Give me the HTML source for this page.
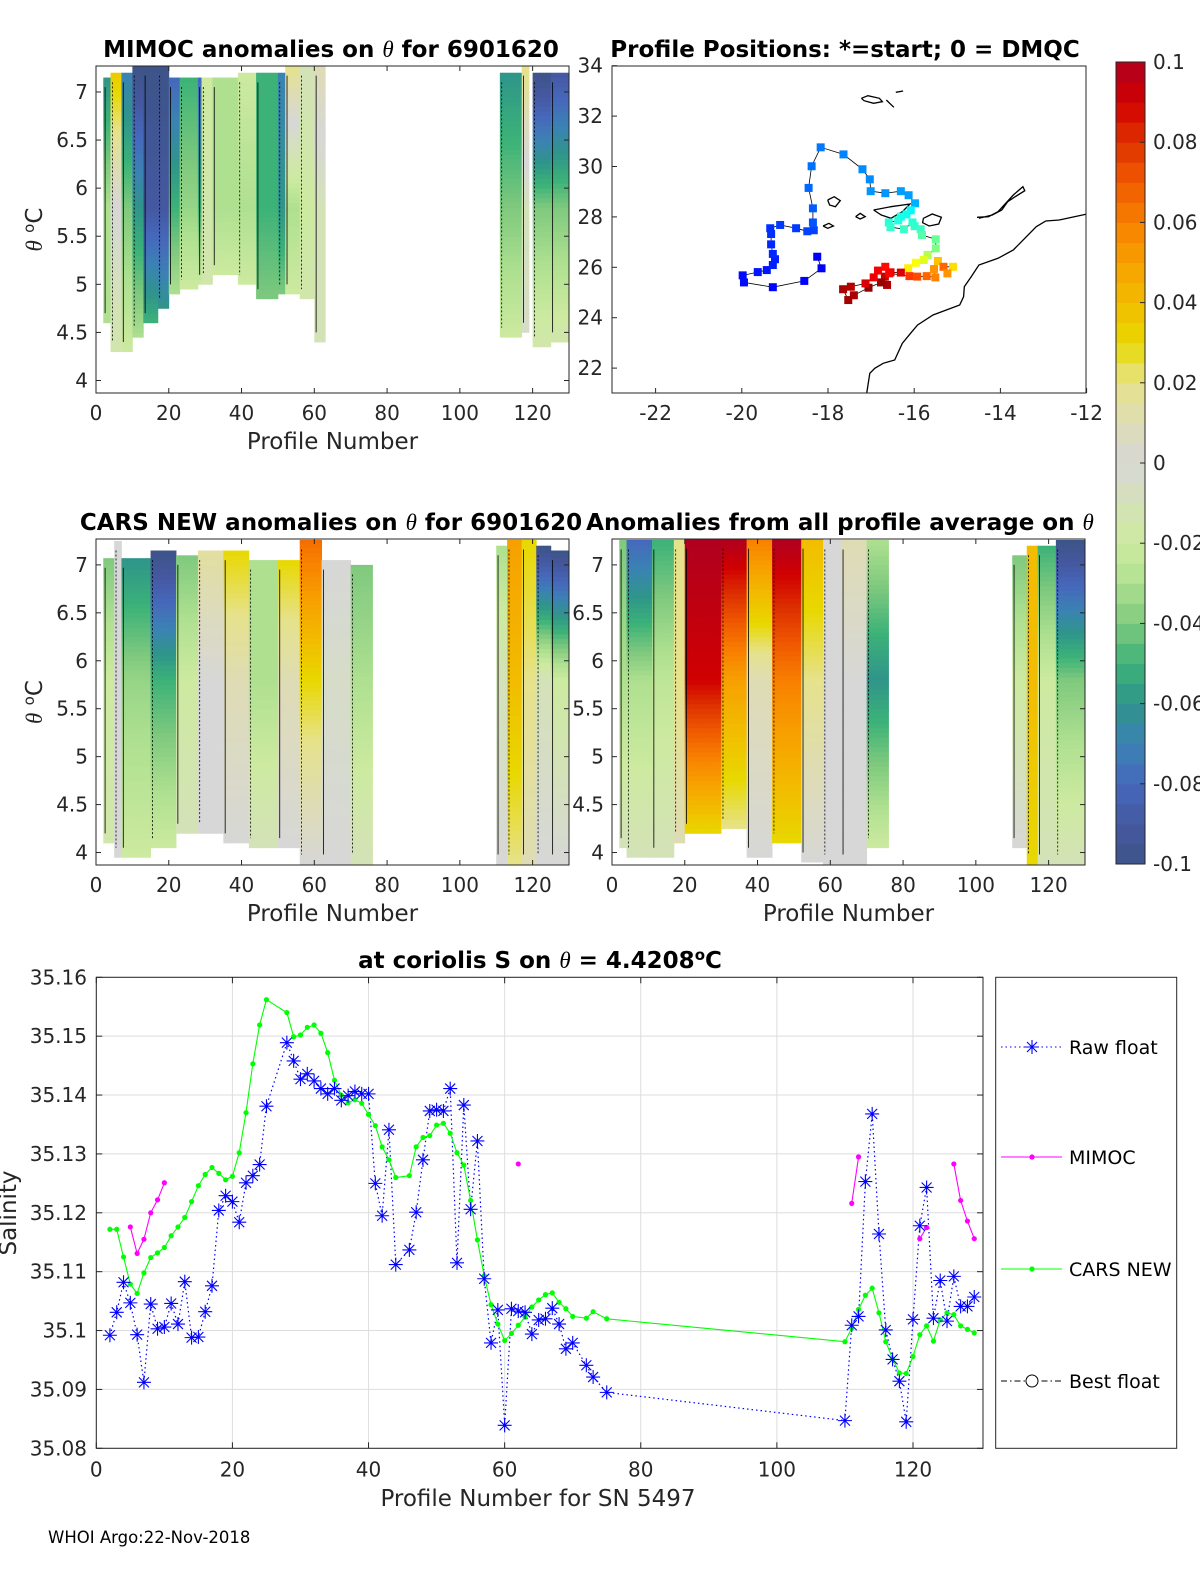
<!DOCTYPE html>
<html><head><meta charset="utf-8"><style>
html,body{margin:0;padding:0;background:#fff}
svg{display:block;font-family:"DejaVu Sans","Liberation Sans",sans-serif}
.tk{font-size:20px;fill:#262626}
.ttl{font-size:23px;font-weight:bold;fill:#000}
.lab{font-size:23px;fill:#262626}
</style></head><body>
<svg id="fig" width="1200" height="1575" viewBox="0 0 1200 1575" xmlns="http://www.w3.org/2000/svg">
<rect width="1200" height="1575" fill="#fff"/>
<g id="g-tl"></g>
<g id="g-map"></g>
<g id="g-cb"></g>
<g id="g-ml"></g>
<g id="g-mr"></g>
<g id="g-bot"></g>
<text x="48" y="1543" font-size="16.5" fill="#000">WHOI Argo:22-Nov-2018</text>
</svg>
<script>
// ===== Bottom chart data =====
const rawProfiles=[2,3,4,5,6,7,8,9,10,11,12,13,14,15,16,17,18,19,20,21,22,23,24,25,28,29,30,31,32,33,34,35,36,37,38,39,40,41,42,43,44,46,47,48,49,50,51,52,53,54,55,56,57,58,59,60,61,62,63,64,65,66,67,68,69,70,72,73,75,110,111,112,113,114,115,116,117,118,119,120,121,122,123,124,125,126,127,128,129];
const rawSal=[99.2,103.1,108.2,104.7,99.3,91.2,104.5,100.3,100.6,104.6,101.1,108.3,98.8,98.9,103.2,107.6,120.4,122.9,121.9,118.4,125.1,126.3,128.2,138.1,148.9,145.8,142.7,143.6,142.4,141.1,140.2,141.1,139.1,139.9,140.6,140.2,140.2,125.0,119.5,134.1,111.2,113.7,120.1,129.0,137.3,137.5,137.3,141.1,111.5,138.3,120.6,132.2,108.8,97.9,103.5,83.9,103.7,103.3,103.1,99.4,101.8,102.0,103.8,101.1,96.9,97.9,94.1,92.1,89.5,84.7,100.9,102.4,125.3,136.8,116.4,100.1,95.1,91.4,84.5,101.9,117.8,124.3,102.1,108.5,101.6,109.2,104.1,104.1,105.7];
const carsProfiles=[2,3,4,5,6,7,8,9,10,11,12,13,14,15,16,17,18,19,20,21,22,23,24,25,28,29,30,31,32,33,34,35,36,37,38,39,40,41,42,43,44,46,47,48,49,50,51,52,53,54,55,56,57,58,59,60,61,62,63,64,65,66,67,68,69,70,72,73,75,110,111,112,113,114,115,116,117,118,119,120,121,122,123,124,125,126,127,128,129];
const carsSal=[117.2,117.2,112.5,107.9,106.3,109.8,112.4,113.2,114.1,116.1,117.6,119.2,121.9,124.6,126.5,127.7,126.7,125.6,126.2,130.2,137.0,145.3,151.9,156.2,154.0,149.9,150.2,151.5,151.9,150.5,147.2,142.5,140.0,138.7,139.2,138.6,136.7,134.8,131.2,129.0,126.0,126.3,131.2,132.8,133.1,134.9,135.2,133.5,130.2,128.1,122.1,115.4,109.3,104.4,101.1,98.3,99.5,100.9,102.3,104.0,105.2,106.1,106.4,104.8,103.7,102.4,102.1,103.2,102.0,98.1,100.4,103.6,106.0,107.2,103.0,98.1,95.2,92.8,92.7,95.6,99.3,100.8,98.2,101.8,103.0,102.7,100.8,100.2,99.6];
const mimocProfiles=[5,6,7,8,9,10,null,62,null,111,112,null,121,122,null,126,127,128,129];
const mimocSal=[117.6,113.1,115.5,120.0,122.2,125.1,null,128.3,null,121.6,129.5,null,115.6,117.5,null,128.3,122.1,118.6,115.6];
const salTicks=["35.08","35.09","35.1","35.11","35.12","35.13","35.14","35.15","35.16"];
const profTicks=[0,20,40,60,80,100,120];

// ===== Heatmap band data =====
const mimocStart=[2,4,7,10,13,17,20,23,28,29,32,39,44,50,52,56,60,111,117,120,125];
const mimocEnd  =[4,7,10,13,17,20,23,28,29,32,39,44,50,52,56,60,63,117,119,125,130];
const mimocTop  =[-0.06,0.035,-0.07,-0.1,-0.1,-0.1,-0.08,-0.05,-0.08,-0.02,-0.03,-0.02,-0.05,-0.07,0.02,-0.01,0.01,-0.06,0.02,-0.1,-0.09];
const mimocMid  =[-0.03,0.0,-0.04,-0.06,-0.09,-0.09,-0.05,-0.035,-0.05,-0.015,-0.03,-0.03,-0.05,-0.06,-0.03,-0.02,-0.01,-0.04,-0.01,-0.04,-0.04];
const mimocBot  =[-0.03,-0.015,-0.02,-0.03,-0.05,-0.06,-0.03,-0.02,-0.02,-0.015,-0.02,-0.02,-0.04,-0.04,-0.02,-0.015,-0.01,-0.02,-0.005,-0.015,-0.015];
const mimocThTop=[7.15,7.2,7.2,7.27,7.27,7.27,7.15,7.15,7.15,7.15,7.15,7.2,7.2,7.2,7.27,7.27,7.27,7.2,7.27,7.2,7.2];
const mimocThBot=[4.6,4.3,4.3,4.45,4.6,4.75,4.9,4.95,5.0,5.0,5.1,5.0,4.85,4.9,4.9,4.85,4.4,4.45,4.5,4.35,4.4];

const carsStart=[2,5,7,15,22,28,35,42,50,56,62,70,110,113,117,121,125];
const carsEnd  =[5,7,15,22,28,35,42,50,56,62,70,76,113,117,121,125,130];
const carsTop  =[-0.04,0.0,-0.06,-0.1,-0.04,0.015,0.03,-0.03,0.03,0.065,0.0,-0.04,-0.03,0.05,0.03,-0.1,-0.1];
const carsMid  =[-0.02,0.0,-0.035,-0.05,-0.02,0.0,0.01,-0.03,0.01,0.03,-0.005,-0.03,-0.01,0.04,0.02,-0.01,-0.02];
const carsBot  =[-0.015,0.0,-0.02,-0.02,-0.01,0.0,0.0,-0.01,0.0,0.0,0.0,-0.01,0.0,0.02,0.01,0.0,0.0];
const carsThTop=[7.07,7.25,7.07,7.15,7.1,7.15,7.15,7.05,7.05,7.26,7.05,7.0,7.2,7.26,7.26,7.2,7.15];
const carsThBot=[4.1,3.95,3.95,4.05,4.2,4.2,4.1,4.05,4.05,3.88,3.88,3.88,3.88,3.88,3.88,3.88,3.88];

const avgStart=[2,4,11,17,20,30,37,44,52,58,63,70,110,114,117,122];
const avgEnd  =[4,11,17,20,30,37,44,52,58,63,70,76,114,117,122,130];
const avgTop  =[-0.04,-0.08,-0.05,0.02,0.1,0.1,0.06,0.1,0.04,0.0,0.01,-0.03,-0.04,0.04,-0.05,-0.1];
const avgMid  =[-0.03,-0.03,-0.025,0.02,0.09,0.05,0.01,0.06,0.02,0.0,0.0,-0.06,-0.02,0.04,-0.02,-0.04];
const avgBot  =[-0.01,-0.01,-0.01,0.01,0.03,0.02,0.0,0.03,0.0,0.0,0.0,-0.02,0.0,0.03,-0.01,-0.01];
const avgThTop=[7.26,7.26,7.26,7.26,7.27,7.27,7.27,7.27,7.27,7.26,7.26,7.26,7.1,7.2,7.2,7.26];
const avgThBot=[4.05,3.95,3.95,4.1,4.2,4.25,3.95,4.1,3.9,3.88,3.88,4.05,4.05,3.88,3.88,3.88];
const thetaTicks=["4","4.5","5","5.5","6","6.5","7"];

// ===== Map data =====
const posLon=[-18.25,-18.15,-18.55,-19.28,-19.95,-19.98,-19.63,-19.42,-19.28,-19.23,-19.28,-19.32,-19.32,-19.34,-19.11,-18.74,-18.48,-18.33,-18.35,-18.35,-18.45,-18.38,-18.17,-17.64,-17.2,-17.03,-17.01,-16.67,-16.31,-16.13,-15.98,-16.08,-16.18,-16.31,-16.37,-16.59,-16.55,-16.24,-16.04,-15.99,-15.85,-15.82,-15.5,-15.5,-15.69,-15.78,-15.96,-16.14,-16.31,-16.55,-16.68,-16.63,-16.77,-17.06,-17.4,-17.53,-17.65,-17.47,-17.13,-16.94,-16.84,-16.67,-16.58,-16.11,-15.93,-15.71,-15.51,-15.54,-15.45,-15.32,-15.1,-15.23];
const posLat=[26.42,25.96,25.46,25.21,25.40,25.68,25.81,25.89,26.09,26.32,26.53,26.91,27.32,27.55,27.68,27.55,27.43,27.47,27.78,28.34,29.15,30.01,30.76,30.48,29.89,29.49,29.02,28.94,29.02,28.86,28.54,28.26,28.10,28.01,27.86,27.78,27.59,27.51,27.78,27.63,27.51,27.28,27.11,26.75,26.49,26.29,26.18,25.96,25.79,25.80,25.63,25.30,25.40,25.19,24.89,24.70,25.13,25.23,25.36,25.60,25.87,26.02,25.76,25.65,25.63,25.65,25.60,25.93,26.25,26.02,26.02,25.76];
const posColor=[0.02,0.02,0.03,0.03,0.04,0.04,0.05,0.05,0.06,0.06,0.07,0.07,0.08,0.08,0.09,0.09,0.1,0.1,0.12,0.13,0.14,0.15,0.16,0.17,0.18,0.18,0.19,0.19,0.2,0.2,0.22,0.3,0.32,0.33,0.34,0.35,0.36,0.37,0.35,0.36,0.37,0.4,0.42,0.44,0.5,0.55,0.58,0.6,0.9,0.9,0.92,0.95,0.97,0.98,0.95,0.96,0.95,0.94,0.9,0.88,0.87,0.85,0.86,0.8,0.78,0.75,0.72,0.7,0.65,0.75,0.62,0.7];
const lonTicks=[-22,-20,-18,-16,-14,-12];
const latTicks=[22,24,26,28,30,32,34];
const cbTicks=["-0.1","-0.08","-0.06","-0.04","-0.02","0","0.02","0.04","0.06","0.08","0.1"];

// ===== helpers =====
const NS="http://www.w3.org/2000/svg";
function mk(tag,attrs,parent){const e=document.createElementNS(NS,tag);for(const k in attrs)e.setAttribute(k,attrs[k]);if(parent)parent.appendChild(e);return e;}
const cmapStops=[[-0.1,[61,84,136]],[-0.09,[69,88,160]],[-0.08,[70,104,188]],[-0.07,[59,130,180]],[-0.06,[47,149,138]],[-0.05,[60,178,120]],[-0.04,[127,201,126]],[-0.03,[174,224,144]],[-0.02,[205,234,160]],[-0.01,[212,226,184]],[0,[215,215,215]],[0.01,[222,220,180]],[0.02,[230,226,140]],[0.03,[232,216,0]],[0.04,[242,188,0]],[0.05,[247,160,0]],[0.06,[248,128,0]],[0.07,[240,90,0]],[0.08,[222,50,0]],[0.09,[208,0,0]],[0.1,[176,0,32]]];
function cmap(v){v=Math.max(-0.1,Math.min(0.1,v));for(let i=0;i<cmapStops.length-1;i++){const a=cmapStops[i],b=cmapStops[i+1];if(v<=b[0]){const t=(v-a[0])/(b[0]-a[0]);return 'rgb('+a[1].map((c,j)=>Math.round(c+(b[1][j]-c)*t)).join(',')+')';}}return 'rgb(176,0,32)';}
function jet(t){const r=Math.max(0,Math.min(1,1.5-Math.abs(4*t-3))),g=Math.max(0,Math.min(1,1.5-Math.abs(4*t-2))),b=Math.max(0,Math.min(1,1.5-Math.abs(4*t-1)));return 'rgb('+Math.round(r*255)+','+Math.round(g*255)+','+Math.round(b*255)+')';}

function heatPanel(gid,L,T,R,B,starts,ends,tops,mids,bots,thT,thB,title,titleX,showYLabel,yLabelX){
  const g=document.getElementById(gid);
  const xs=p=>L+p*(R-L)/130, ys=th=>T+(7.27-th)*(B-T)/(7.27-3.87);
  for(let i=0;i<starts.length;i++){
    for(let p=starts[i];p<ends[i];p++){
      for(let th=thB[i];th<thT[i]-1e-6;th+=0.05){
        const thc=th+0.025, top2=Math.min(th+0.05,thT[i]);
        let v; const mid=5.8;
        if(thc>=mid) v=mids[i]+(tops[i]-mids[i])*(thc-mid)/Math.max(0.01,thT[i]-mid);
        else v=bots[i]+(mids[i]-bots[i])*(thc-thB[i])/Math.max(0.01,mid-thB[i]);
        const r=mk('rect',{x:xs(p).toFixed(2),y:ys(top2).toFixed(2),width:((R-L)/130+0.4).toFixed(2),height:(ys(th)-ys(top2)+0.4).toFixed(2),fill:cmap(v)},g);
        
        
      }
    }
    const cl=mk('line',{x1:xs(starts[i]+0.5),x2:xs(starts[i]+0.5),y1:ys(thT[i]-0.1),y2:ys(thB[i]+0.1),stroke:'#000','stroke-width':0.8,'stroke-dasharray':(i%2?'2,2':'none')},g);
    
    
  }
  const box=mk('rect',{x:L,y:T,width:R-L,height:B-T,fill:'none',stroke:'#262626','stroke-width':1},g);
  
  
  profTicks.forEach(t=>{const x=xs(t);mk('line',{x1:x,x2:x,y1:B,y2:B-5,stroke:'#262626'},g);mk('line',{x1:x,x2:x,y1:T,y2:T+5,stroke:'#262626'},g);
    const tx=mk('text',{x:x,y:B+27,'text-anchor':'middle',class:'tk'},g);tx.textContent=t;
    
    });
  thetaTicks.forEach(t=>{const y=ys(+t);mk('line',{x1:L,x2:L+5,y1:y,y2:y,stroke:'#262626'},g);mk('line',{x1:R,x2:R-5,y1:y,y2:y,stroke:'#262626'},g);
    const tx=mk('text',{x:yLabelX,y:y+7,'text-anchor':'end',class:'tk'},g);tx.textContent=t;
    
    });
  const tt=mk('text',{x:titleX,y:T-9,'text-anchor':'middle',class:'ttl'},g);tt.innerHTML=title;
  
  
  const xl=mk('text',{x:(L+R)/2,y:B+56,'text-anchor':'middle',class:'lab'},g);xl.textContent='Profile Number';
  
  
  if(showYLabel){const yl=mk('text',{transform:'translate(42,'+((T+B)/2)+') rotate(-90)','text-anchor':'middle',class:'lab'},g);yl.innerHTML='<tspan font-family="Liberation Serif" font-style="italic">θ</tspan> <tspan dy="-8" font-size="15">o</tspan><tspan dy="8">C</tspan>';
    
    }
}
const TH='<tspan font-family="Liberation Serif" font-style="italic" font-weight="normal">θ</tspan>';
heatPanel('g-tl',96,66,569,393,mimocStart,mimocEnd,mimocTop,mimocMid,mimocBot,mimocThTop,mimocThBot,'MIMOC anomalies on '+TH+'  for 6901620',331,true,88);
heatPanel('g-ml',96,539,569,865,carsStart,carsEnd,carsTop,carsMid,carsBot,carsThTop,carsThBot,'CARS NEW anomalies on '+TH+' for 6901620',331,true,88);
heatPanel('g-mr',612,539,1085,865,avgStart,avgEnd,avgTop,avgMid,avgBot,avgThTop,avgThBot,'Anomalies from all profile average on '+TH,840,false,604);

// ===== Map =====
(function(){
  const g=document.getElementById('g-map');
  const L=612,R=1086,T=66,B=393;
  const xs=lon=>655.6+(lon+22)*43.1, ys=lat=>65.7+(34-lat)*25.2;
  const zx=v=>600+v/2.613, zy=v=>30+v/3;
  const coast=[[[697,1090],[705,1030],[718,1015],[740,1000],[770,990],[790,940],[815,905],[830,885],[870,855],[940,825],[950,800],[952,770],[970,740],[990,705],[1040,685],[1080,660],[1110,625],[1140,590],[1165,573],[1200,570],[1270,553]],
   [[985,562],[1015,560],[1040,545],[1060,520],[1080,495],[1105,470],[1110,482],[1085,500],[1065,515],[1050,540],[1025,555],[990,565]],
   [[715,540],[760,530],[810,522],[790,545],[760,565],[735,555],[715,540]],
   [[845,565],[868,552],[892,562],[885,582],[860,588],[843,578],[845,565]],
   [[668,560],[680,550],[693,560],[680,567],[668,560]],
   [[595,510],[612,500],[628,512],[615,530],[600,525],[595,510]],
   [[583,588],[598,580],[610,588],[595,595],[583,588]],
   [[683,205],[700,197],[730,205],[738,215],[715,220],[690,212],[683,205]],
   [[748,210],[768,232]],[[773,187],[792,183]]];
  coast.forEach(c=>{const d=c.map((p,i)=>(i?'L':'M')+zx(p[0]).toFixed(1)+','+zy(p[1]).toFixed(1)).join('');
    const pth=mk('path',{d:d,fill:'none',stroke:'#000','stroke-width':1.3},g);
    
    });
  const track=posLon.map((lo,i)=>(i?'L':'M')+xs(lo).toFixed(1)+','+ys(posLat[i]).toFixed(1)).join('');
  const tr=mk('path',{d:track,fill:'none',stroke:'#000','stroke-width':0.8},g);
  
  
  posLon.forEach((lo,i)=>{const r=mk('rect',{x:xs(lo)-4,y:ys(posLat[i])-4,width:8,height:8,fill:jet(0.1+posColor[i]*0.9)},g);
    
    });
  const box=mk('rect',{x:L,y:T,width:R-L,height:B-T,fill:'none',stroke:'#262626'},g);
  
  
  lonTicks.forEach(t=>{const x=xs(t);mk('line',{x1:x,x2:x,y1:B,y2:B-5,stroke:'#262626'},g);
    const tx=mk('text',{x:x,y:B+27,'text-anchor':'middle',class:'tk'},g);tx.textContent=t;
    
    });
  latTicks.forEach(t=>{const y=ys(t);mk('line',{x1:L,x2:L+5,y1:y,y2:y,stroke:'#262626'},g);
    const tx=mk('text',{x:603,y:y+7,'text-anchor':'end',class:'tk'},g);tx.textContent=t;
    
    });
  const tt=mk('text',{x:845,y:57,'text-anchor':'middle',class:'ttl'},g);tt.textContent='Profile Positions: *=start; 0 = DMQC';
  
  
})();

// ===== Colorbar =====
(function(){
  const g=document.getElementById('g-cb');
  const L=1116,R=1145,T=62,B=864;
  const ys=v=>T+(0.1-v)*(B-T)/0.2;
  for(let k=0;k<40;k++){const v0=-0.1+k*0.005;const r=mk('rect',{x:L,y:ys(v0+0.005),width:R-L,height:(B-T)/40+0.5,fill:cmap(v0+0.0025)},g);
    
    }
  mk('rect',{x:L,y:T,width:R-L,height:B-T,fill:'none',stroke:'#262626'},g);
  cbTicks.forEach(t=>{const y=ys(+t);mk('line',{x1:R,x2:R-5,y1:y,y2:y,stroke:'#262626'},g);
    const tx=mk('text',{x:1153,y:y+7,class:'tk','font-size':'18'},g);tx.textContent=t;
    
    });
})();

// ===== Bottom salinity chart =====
(function(){
  const g=document.getElementById('g-bot');
  const L=96.3,R=983,T=977.3,B=1448.3;
  const xs=p=>L+p*(913-L)/120, ys=s=>T+(160-s)*(B-T)/80;
  salTicks.forEach(t=>{const y=ys((+t-35)*1000);mk('line',{x1:L,x2:R,y1:y,y2:y,stroke:'#dedede'},g);});
  profTicks.forEach(t=>{const x=xs(t);mk('line',{x1:x,x2:x,y1:T,y2:B,stroke:'#dedede'},g);});
  const lineOf=(ps,vs)=>{let d='',pen=false;ps.forEach((p,i)=>{if(p===null||vs[i]===null){pen=false;return;}d+=(pen?'L':'M')+xs(p).toFixed(1)+','+ys(vs[i]).toFixed(1);pen=true;});return d;};
  const rl=mk('path',{d:lineOf(rawProfiles,rawSal),fill:'none',stroke:'#0000ff','stroke-width':1.2,'stroke-dasharray':'1.5,3'},g);
  
  
  const cl=mk('path',{d:lineOf(carsProfiles,carsSal),fill:'none',stroke:'#00ff00','stroke-width':1.1},g);
  
  
  carsProfiles.forEach((p,i)=>{const c=mk('circle',{cx:xs(p),cy:ys(carsSal[i]),r:2.6,fill:'#00ff00'},g);
    
    });
  const ml=mk('path',{d:lineOf(mimocProfiles,mimocSal),fill:'none',stroke:'#ff00ff','stroke-width':1.1},g);
  
  
  mimocProfiles.forEach((p,i)=>{if(p===null)return;const c=mk('circle',{cx:xs(p),cy:ys(mimocSal[i]),r:2.6,fill:'#ff00ff'},g);
    
    });
  const star=(x,y,par)=>{const s=7;return mk('path',{d:`M${x-s},${y}L${x+s},${y}M${x},${y-s}L${x},${y+s}M${x-5},${y-5}L${x+5},${y+5}M${x-5},${y+5}L${x+5},${y-5}`,stroke:'#0000ff','stroke-width':1.1,fill:'none'},par);};
  rawProfiles.forEach((p,i)=>{const s=star(xs(p),ys(rawSal[i]),g);
    
    });
  mk('rect',{x:L,y:T,width:R-L,height:B-T,fill:'none',stroke:'#262626'},g);
  profTicks.forEach(t=>{const x=xs(t);mk('line',{x1:x,x2:x,y1:B,y2:B-6,stroke:'#262626'},g);mk('line',{x1:x,x2:x,y1:T,y2:T+6,stroke:'#262626'},g);
    const tx=mk('text',{x:x,y:B+28,'text-anchor':'middle',class:'tk'},g);tx.textContent=t;
    
    });
  salTicks.forEach(t=>{const y=ys((+t-35)*1000);mk('line',{x1:L,x2:L+6,y1:y,y2:y,stroke:'#262626'},g);mk('line',{x1:R,x2:R-6,y1:y,y2:y,stroke:'#262626'},g);
    const tx=mk('text',{x:87,y:y+7,'text-anchor':'end',class:'tk'},g);tx.textContent=t;
    
    });
  const tt=mk('text',{x:540,y:968,'text-anchor':'middle',class:'ttl'},g);tt.innerHTML='at coriolis S on '+TH+' = 4.4208<tspan dy="-8" font-size="15">o</tspan><tspan dy="8">C</tspan>';
  
  
  const xl=mk('text',{x:538,y:1506,'text-anchor':'middle',class:'lab'},g);xl.textContent='Profile Number for SN 5497';
  
  
  const yl=mk('text',{transform:'translate(16,1213) rotate(-90)','text-anchor':'middle',class:'lab'},g);yl.textContent='Salinity';
  
  
  const lg=mk('g',{},g);
  
  
  mk('rect',{x:995.7,y:977.3,width:181,height:471,fill:'#fff',stroke:'#262626'},lg);
  const ly=[1047,1157,1269,1381], names=['Raw float','MIMOC','CARS NEW','Best float'];
  names.forEach((n,i)=>{
    const e=mk('g',{},lg);
    
    
    const y=ly[i];
    if(i===0){mk('line',{x1:1001,x2:1062,y1:y,y2:y,stroke:'#0000ff','stroke-dasharray':'1.5,3'},e);star(1032,y,e);}
    if(i===1){mk('line',{x1:1001,x2:1062,y1:y,y2:y,stroke:'#ff00ff'},e);mk('circle',{cx:1032,cy:y,r:2.6,fill:'#ff00ff'},e);}
    if(i===2){mk('line',{x1:1001,x2:1062,y1:y,y2:y,stroke:'#00ff00'},e);mk('circle',{cx:1032,cy:y,r:2.6,fill:'#00ff00'},e);}
    if(i===3){mk('line',{x1:1001,x2:1062,y1:y,y2:y,stroke:'#000','stroke-dasharray':'6,3,1.5,3'},e);mk('circle',{cx:1032,cy:y,r:6,fill:'#fff',stroke:'#000'},e);}
    const t=mk('text',{x:1069,y:y+7,'font-size':'19',fill:'#000'},e);t.textContent=n;
  });
})();
</script>
</body></html>
